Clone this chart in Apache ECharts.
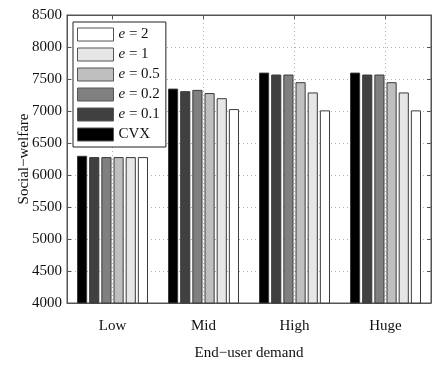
<!DOCTYPE html>
<html>
<head>
<meta charset="utf-8">
<script src="https://cdn.jsdelivr.net/npm/echarts@6/dist/echarts.min.js"></script>
<style>
  html, body { margin: 0; padding: 0; background: #fff; }
  #chart { width: 441px; height: 376px; }
</style>
</head>
<body>
<div id="chart"></div>
<script>
//data
var categories = ['Low', 'Mid', 'High', 'Huge'];
var seriesNames = ['CVX', 'e = 0.1', 'e = 0.2', 'e = 0.5', 'e = 1', 'e = 2'];
var legendOrder = ['e = 2', 'e = 1', 'e = 0.5', 'e = 0.2', 'e = 0.1', 'CVX'];
var cvx = [6300, 7350, 7600, 7600];
var e01 = [6280, 7310, 7570, 7570];
var e02 = [6280, 7330, 7570, 7570];
var e05 = [6280, 7280, 7450, 7450];
var e1 = [6280, 7200, 7290, 7290];
var e2 = [6280, 7030, 7010, 7010];
var yTicks = [4000, 8500, 500]; //min, max, step

var values = [cvx, e01, e02, e05, e1, e2];
var fills = ['#000000', '#404040', '#808080', '#bfbfbf', '#e6e6e6', '#ffffff'];
var font = '"Liberation Serif", "Times New Roman", serif';

var chart = echarts.init(document.getElementById('chart'));

var series = [];
for (var i = 0; i < seriesNames.length; i++) {
    series.push({
        name: seriesNames[i],
        type: 'bar',
        xAxisIndex: 0,
        yAxisIndex: 0,
        barCategoryGap: '22%',
        barGap: '20%',
        itemStyle: { color: fills[i], borderColor: '#3a3a3a', borderWidth: 1 },
        data: values[i]
    });
}

//top axis: 9 points so odd ones sit on the category centres
var topPts = [];
for (var k = 0; k <= 8; k++) topPts.push('');
function odd(idx) { return idx % 2 === 1; }

var option = {
    animation: false,
    textStyle: { fontFamily: font },
    grid: { left: 67, right: 10, top: 15, bottom: 73, show: true, borderColor: '#555', borderWidth: 1 },
    legend: {
        data: legendOrder,
        orient: 'vertical',
        left: 73, top: 22,
        icon: 'rect',
        itemWidth: 36, itemHeight: 13, itemGap: 5,
        padding: [5, 6, 5, 4],
        borderColor: '#222', borderWidth: 1,
        backgroundColor: '#fff',
        itemStyle: { borderColor: '#555', borderWidth: 1 },
        formatter: function (n) {
            return n === 'CVX' ? n : '{i|e}' + n.slice(1);
        },
        textStyle: {
            fontFamily: font, fontSize: 15, color: '#111',
            rich: { i: { fontFamily: font, fontSize: 15, fontStyle: 'italic', color: '#111' } }
        }
    },
    xAxis: [{
        type: 'category',
        data: categories,
        position: 'bottom',
        name: 'End\u2212user demand',
        nameLocation: 'middle',
        nameGap: 43,
        nameTextStyle: { fontFamily: font, fontSize: 15, color: '#111' },
        axisLine: { lineStyle: { color: '#555' } },
        axisTick: { inside: true, alignWithLabel: true, length: 4, lineStyle: { color: '#555' } },
        axisLabel: { fontFamily: font, fontSize: 15, color: '#111', margin: 16 },
        splitLine: { show: false }
    }, {
        type: 'category',
        data: topPts,
        position: 'top',
        boundaryGap: false,
        axisLine: { lineStyle: { color: '#555' } },
        axisTick: { inside: true, length: 4, interval: odd, lineStyle: { color: '#555' } },
        axisLabel: { show: false },
        splitLine: { show: true, interval: odd, lineStyle: { color: '#b0b0b0', type: [1, 3] } }
    }],
    yAxis: [{
        type: 'value',
        min: yTicks[0], max: yTicks[1], interval: yTicks[2],
        position: 'left',
        name: 'Social\u2212welfare',
        nameLocation: 'middle',
        nameGap: 35,
        nameMoveOverlap: false,
        nameTextStyle: { fontFamily: font, fontSize: 15, color: '#111' },
        axisLine: { show: true, lineStyle: { color: '#555' } },
        axisTick: { show: true, inside: true, length: 4, lineStyle: { color: '#555' } },
        axisLabel: { fontFamily: font, fontSize: 15, color: '#111', margin: 5,
            formatter: function (v) { return String(v); } },
        splitLine: { show: true, lineStyle: { color: '#b0b0b0', type: [1, 3] } }
    }, {
        type: 'value',
        min: yTicks[0], max: yTicks[1], interval: yTicks[2],
        position: 'right',
        axisLine: { show: true, lineStyle: { color: '#555' } },
        axisTick: { show: true, inside: true, length: 4, lineStyle: { color: '#555' } },
        axisLabel: { show: false },
        splitLine: { show: false }
    }],
    series: series
};

chart.setOption(option);
</script>
</body>
</html>
